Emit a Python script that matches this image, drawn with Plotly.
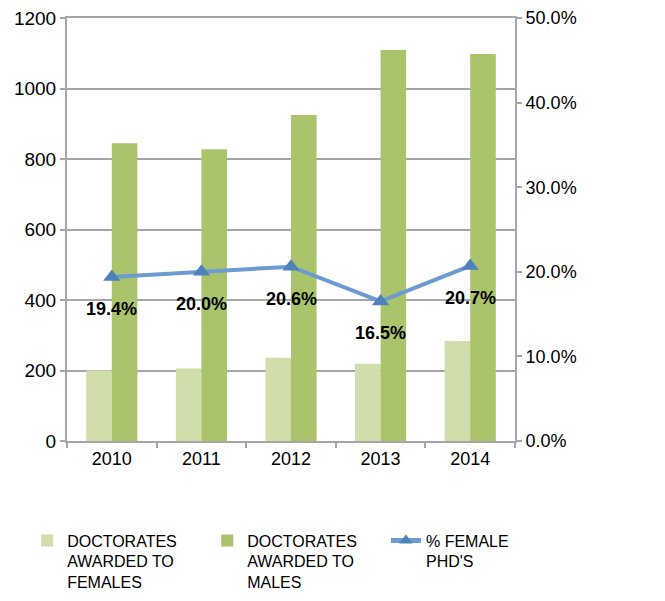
import plotly.graph_objects as go

years = ["2010", "2011", "2012", "2013", "2014"]
females = [200, 206, 236, 219, 284]
males = [845, 828, 925, 1109, 1098]
pct_female = [0.194, 0.200, 0.206, 0.165, 0.207]
pct_labels = ["19.4%", "20.0%", "20.6%", "16.5%", "20.7%"]

grey = "#a6a6a6"
font_fam = "Liberation Sans, Arial, sans-serif"

fig = go.Figure()
fig.add_trace(go.Bar(
    x=years, y=females, name="DOCTORATES<br>AWARDED TO<br>FEMALES",
    marker=dict(color="#cfdeaa", line=dict(width=0)), legend="legend",
))
fig.add_trace(go.Bar(
    x=years, y=males, name="DOCTORATES<br>AWARDED TO<br>MALES",
    marker=dict(color="#a9c46b", line=dict(width=0)), legend="legend2",
))
fig.add_trace(go.Scatter(
    x=years, y=pct_female, name="% FEMALE<br>PHD'S", yaxis="y2",
    mode="lines+markers",
    line=dict(color="#6c9bd2", width=4),
    marker=dict(symbol="triangle-up", size=15, color="#4f81bd"),
    legend="legend3",
))

# data labels: category index on the category axis
for i, (p, lab) in enumerate(zip(pct_female, pct_labels)):
    fig.add_annotation(
        x=i, y=p, xref="x", yref="y2", text=lab, showarrow=False,
        yshift=-32, font=dict(family=font_fam, size=18, color="black", weight="bold"),
    )

leg_common = dict(
    orientation="v", yanchor="top", xanchor="left", valign="top",
    font=dict(family=font_fam, size=16, color="black"),
    bgcolor="rgba(0,0,0,0)", itemsizing="constant",
)

fig.update_layout(
    width=657, height=593,
    margin=dict(l=59, r=150, t=10, b=160, autoexpand=False),
    paper_bgcolor="white", plot_bgcolor="white",
    barmode="group", bargap=0.43, bargroupgap=0,
    showlegend=True,
    font=dict(family=font_fam, size=18, color="black"),
    xaxis=dict(
        type="category", range=[-0.5, len(years) - 0.5],
        showline=True, linecolor=grey, linewidth=2, mirror=True,
        ticks="outside", tickcolor=grey, ticklen=5, tickwidth=2,
        tickson="boundaries", showgrid=False,
        tickfont=dict(family=font_fam, size=18),
    ),
    yaxis=dict(
        range=[0, 1200], dtick=200, showgrid=True, gridcolor=grey, gridwidth=2,
        showline=True, linecolor=grey, linewidth=2,
        ticks="outside", tickcolor=grey, ticklen=5, tickwidth=2,
        zeroline=False, tickfont=dict(family=font_fam, size=19),
        ticklabeloverflow="allow",
    ),
    yaxis2=dict(
        overlaying="y", side="right", range=[0, 0.5], dtick=0.1, tickformat=".1%",
        showgrid=False, showline=True, linecolor=grey, linewidth=2,
        ticks="outside", tickcolor=grey, ticklen=5, tickwidth=2,
        zeroline=False, tickfont=dict(family=font_fam, size=18),
        ticklabeloverflow="allow",
    ),
    legend=dict(x=-0.089, y=-0.195, **leg_common),
    legend2=dict(x=0.313, y=-0.195, **leg_common),
    legend3=dict(x=0.712, y=-0.195, **leg_common),
)

fig.write_html("out.html")
